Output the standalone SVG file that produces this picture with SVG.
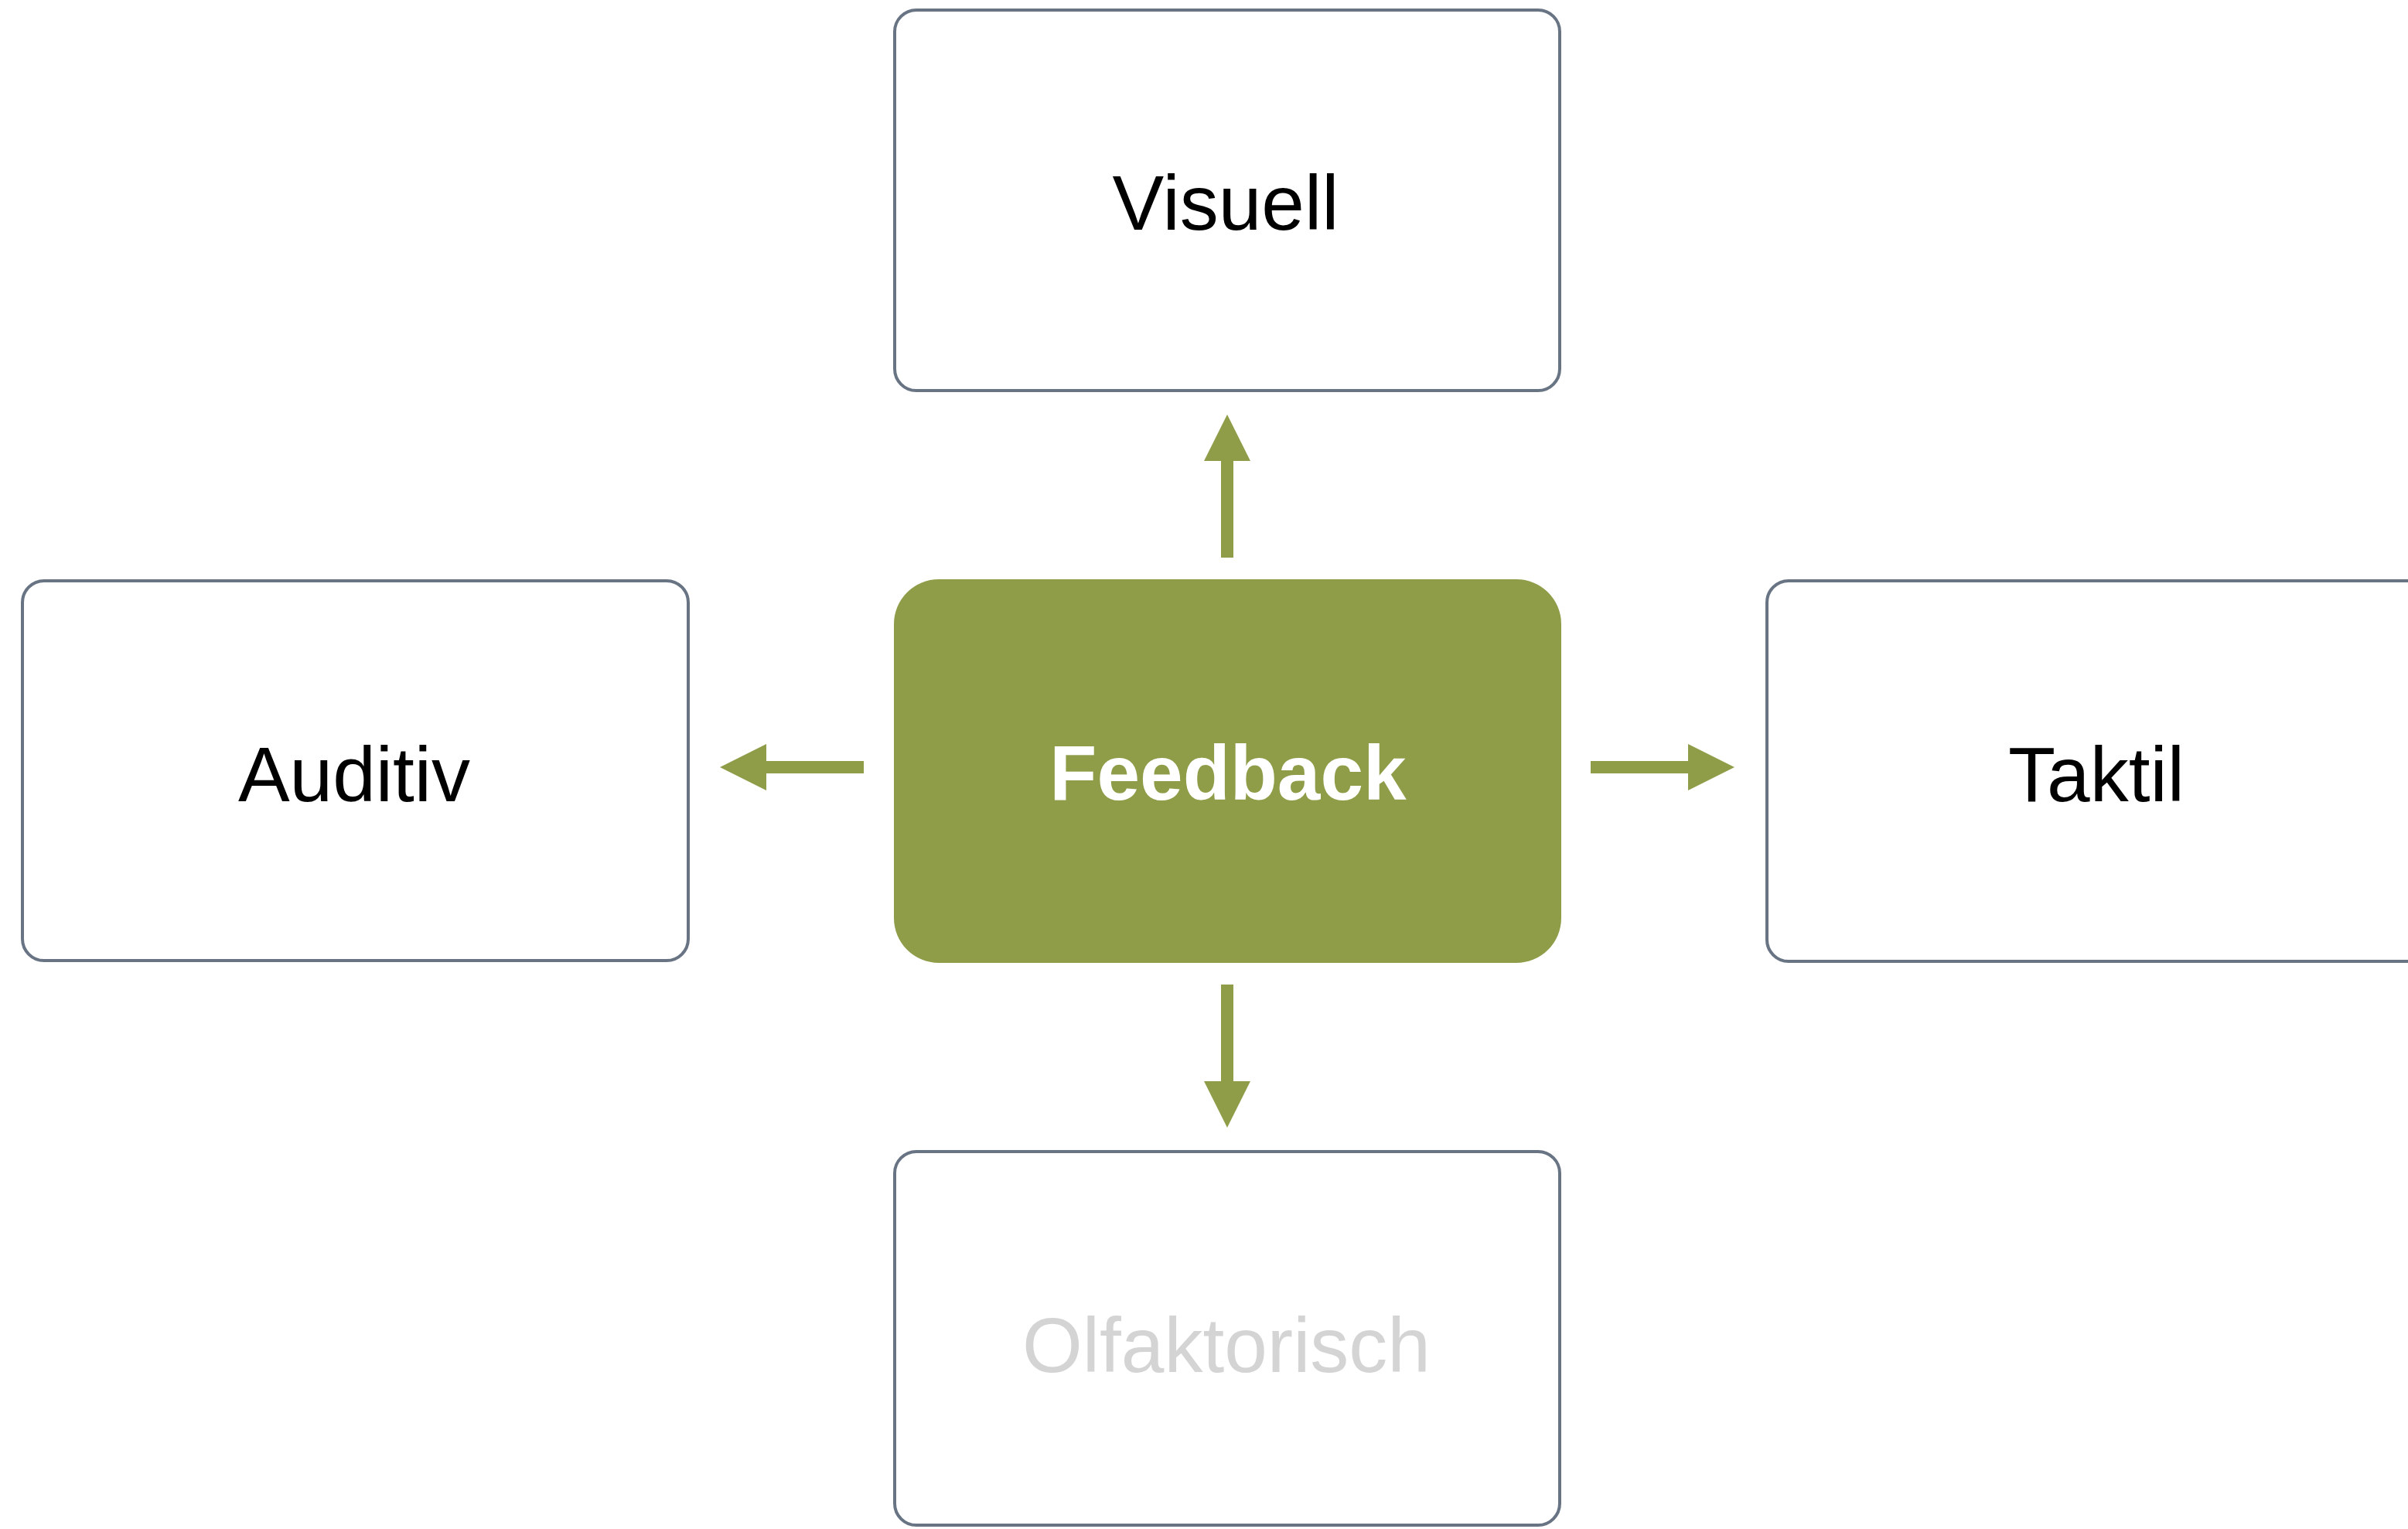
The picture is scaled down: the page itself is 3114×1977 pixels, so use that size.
<svg xmlns="http://www.w3.org/2000/svg" width="3114" height="1977" viewBox="0 0 3114 1977">
  <style>
    .box { fill: #ffffff; stroke: #687483; stroke-width: 4; }
    .core { fill: #8f9d49; stroke: none; }
    .lbl { font-family: "Liberation Sans", Arial, Helvetica, sans-serif; font-size: 100px; text-anchor: middle; fill: #000000; }
    .lbl-core { font-weight: bold; fill: #ffffff; }
    .lbl-muted { fill: #d4d4d4; }
    .link { stroke: #8f9d49; stroke-width: 16; fill: none; }
  </style>
  <defs>
    <marker id="head" markerUnits="userSpaceOnUse" markerWidth="60" markerHeight="60" refX="0" refY="30" orient="auto">
      <path d="M0,0 L60,30 L0,60 Z" fill="#8f9d49"/>
    </marker>
  </defs>
  <rect width="3114" height="1977" fill="#ffffff"/>

  <!-- arrows radiating from the centre node -->
  <g id="connectors">
    <line class="link" x1="1587" y1="721" x2="1587" y2="596" marker-end="url(#head)"/>
    <line class="link" x1="1587" y1="1273" x2="1587" y2="1398" marker-end="url(#head)"/>
    <line class="link" x1="1117" y1="992" x2="991" y2="992" marker-end="url(#head)"/>
    <line class="link" x1="2057" y1="992" x2="2183" y2="992" marker-end="url(#head)"/>
  </g>

  <g id="feedback">
    <rect class="core" x="1156" y="749" width="863" height="496" rx="58" ry="58"/>
    <text class="lbl lbl-core" x="1588" y="1034">Feedback</text>
  </g>

  <g id="visuell">
    <rect class="box" x="1157" y="13" width="860" height="492" rx="28" ry="28"/>
    <text class="lbl" x="1585" y="297">Visuell</text>
  </g>

  <g id="auditiv">
    <rect class="box" x="29" y="751" width="861" height="491" rx="28" ry="28"/>
    <text class="lbl" x="458" y="1036">Auditiv</text>
  </g>

  <g id="taktil">
    <rect class="box" x="2285" y="751" width="880" height="492" rx="28" ry="28"/>
    <text class="lbl" x="2711" y="1036">Taktil</text>
  </g>

  <g id="olfaktorisch">
    <rect class="box" x="1157" y="1489" width="860" height="483" rx="28" ry="28"/>
    <text class="lbl lbl-muted" x="1586" y="1774">Olfaktorisch</text>
  </g>
</svg>
